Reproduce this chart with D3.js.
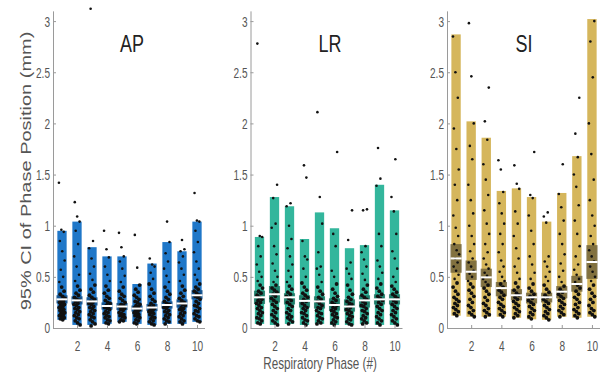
<!DOCTYPE html>
<html>
<head>
<meta charset="utf-8">
<script src="https://cdn.jsdelivr.net/npm/d3@7/dist/d3.min.js"></script>
<style>
  html, body { margin: 0; padding: 0; background: #fff; }
  svg { display: block; font-family: "Liberation Sans", Arial, Helvetica, sans-serif; }
</style>
</head>
<body>
<svg id="chart" width="603" height="381"></svg>
<script>
// ---------------- DATA ----------------
const phases = [1, 2, 3, 4, 5, 6, 7, 8, 9, 10];
const yTicks = [0, 0.5, 1, 1.5, 2, 2.5, 3];
const yTickLabels = ["0", "0.5", "1", "1.5", "2", "2.5", "3"];
const xTicks = [2, 4, 6, 8, 10];
const panelTitles = ["AP", "LR", "SI"];
const yLabel = "95% CI of Phase Position (mm)";
const xLabel = "Respiratory Phase (#)";

// AP
const apTop = [0.95, 1.04, 0.79, 0.70, 0.70, 0.43, 0.63, 0.84, 0.75, 1.04];
const apLow = [0.08, 0.03, 0.03, 0.04, 0.06, 0.04, 0.03, 0.04, 0.04, 0.06];
const apMedian = [0.28, 0.27, 0.26, 0.215, 0.21, 0.19, 0.20, 0.225, 0.24, 0.32];
const apDarkLow = [0.24, 0.23, 0.22, 0.18, 0.175, 0.16, 0.165, 0.19, 0.2, 0.28];
const apDarkHigh = [0.32, 0.31, 0.30, 0.25, 0.245, 0.22, 0.235, 0.26, 0.28, 0.37];
const apPoints = [
  [0.08,0.09,0.1,0.11,0.12,0.13,0.14,0.15,0.16,0.17,0.18,0.19,0.2,0.21,0.22,0.23,0.24,0.25,0.26,0.27,0.29,0.31,0.33,0.36,0.4,0.45,0.5,0.57,0.66,0.75,0.85,0.94,0.96,1.42],
  [0.03,0.05,0.07,0.09,0.1,0.12,0.13,0.15,0.16,0.18,0.19,0.2,0.22,0.23,0.24,0.26,0.27,0.28,0.3,0.32,0.34,0.37,0.41,0.46,0.52,0.6,0.7,0.82,0.95,1.04,1.09,1.23],
  [0.02,0.04,0.06,0.08,0.1,0.11,0.13,0.14,0.16,0.17,0.19,0.2,0.21,0.23,0.24,0.25,0.26,0.28,0.3,0.32,0.35,0.38,0.42,0.47,0.53,0.6,0.68,0.78,0.85,3.12],
  [0.04,0.05,0.07,0.08,0.1,0.11,0.12,0.14,0.15,0.16,0.18,0.19,0.2,0.21,0.22,0.24,0.25,0.27,0.29,0.31,0.34,0.37,0.41,0.46,0.52,0.6,0.69,0.77,0.95],
  [0.06,0.07,0.08,0.1,0.11,0.12,0.13,0.14,0.15,0.17,0.18,0.19,0.2,0.21,0.22,0.23,0.25,0.27,0.29,0.31,0.33,0.36,0.4,0.45,0.51,0.58,0.65,0.7,0.79,0.93],
  [0.04,0.05,0.07,0.08,0.1,0.11,0.12,0.13,0.14,0.15,0.16,0.17,0.18,0.19,0.2,0.21,0.22,0.23,0.25,0.26,0.28,0.3,0.32,0.35,0.38,0.42,0.59,0.91],
  [0.03,0.04,0.06,0.07,0.09,0.1,0.11,0.13,0.14,0.15,0.16,0.17,0.18,0.19,0.2,0.21,0.22,0.24,0.26,0.28,0.31,0.34,0.38,0.43,0.48,0.54,0.6,0.62,0.68],
  [0.04,0.06,0.07,0.09,0.1,0.12,0.13,0.15,0.16,0.17,0.19,0.2,0.21,0.22,0.23,0.24,0.26,0.28,0.3,0.33,0.36,0.4,0.45,0.51,0.58,0.65,0.73,0.84,1.04],
  [0.04,0.06,0.07,0.09,0.11,0.12,0.14,0.15,0.17,0.18,0.19,0.2,0.22,0.23,0.24,0.25,0.27,0.29,0.31,0.34,0.37,0.41,0.46,0.52,0.58,0.64,0.7,0.75,0.77,0.86],
  [0.06,0.07,0.09,0.11,0.12,0.14,0.16,0.17,0.19,0.21,0.22,0.24,0.26,0.28,0.3,0.31,0.32,0.34,0.36,0.38,0.4,0.43,0.47,0.52,0.58,0.65,0.74,0.84,0.95,1.04,1.05,1.32]
];

// LR
const lrTop = [0.89, 1.28, 1.19, 0.87, 1.13, 0.975, 0.78, 0.81, 1.40, 1.15];
const lrLow = [0.04, 0.03, 0.04, 0.03, 0.04, 0.03, 0.03, 0.04, 0.03, 0.03];
const lrMedian = [0.30, 0.33, 0.30, 0.265, 0.26, 0.225, 0.21, 0.27, 0.28, 0.28];
const lrDarkLow = [0.235, 0.25, 0.23, 0.20, 0.19, 0.17, 0.16, 0.20, 0.23, 0.23];
const lrDarkHigh = [0.365, 0.41, 0.34, 0.32, 0.31, 0.29, 0.28, 0.32, 0.33, 0.33];
const lrPoints = [
  [0.04,0.05,0.07,0.09,0.1,0.12,0.14,0.15,0.17,0.19,0.2,0.22,0.24,0.25,0.27,0.28,0.3,0.32,0.34,0.36,0.39,0.42,0.46,0.5,0.55,0.62,0.7,0.8,0.89,0.9,2.78],
  [0.03,0.05,0.07,0.09,0.11,0.13,0.15,0.17,0.19,0.21,0.23,0.25,0.27,0.29,0.31,0.33,0.35,0.37,0.39,0.42,0.45,0.5,0.56,0.63,0.72,0.8,0.98,1.02,1.27,1.4],
  [0.04,0.06,0.08,0.1,0.11,0.13,0.15,0.17,0.19,0.21,0.23,0.25,0.27,0.29,0.31,0.33,0.35,0.38,0.41,0.45,0.5,0.56,0.62,0.7,0.78,0.87,1.0,1.19,1.22],
  [0.03,0.05,0.07,0.08,0.1,0.12,0.14,0.15,0.17,0.19,0.2,0.22,0.24,0.26,0.28,0.3,0.32,0.34,0.37,0.4,0.44,0.5,0.58,0.67,0.7,0.85,1.47,1.59],
  [0.04,0.05,0.07,0.09,0.1,0.12,0.14,0.15,0.17,0.19,0.2,0.22,0.24,0.26,0.28,0.3,0.33,0.36,0.4,0.45,0.52,0.58,0.6,0.74,1.02,1.28,2.11],
  [0.03,0.05,0.06,0.08,0.1,0.11,0.13,0.14,0.16,0.17,0.19,0.2,0.22,0.23,0.25,0.27,0.29,0.31,0.34,0.38,0.43,0.5,0.56,0.8,0.92,1.72],
  [0.03,0.04,0.06,0.08,0.09,0.11,0.12,0.14,0.15,0.17,0.18,0.2,0.21,0.23,0.24,0.26,0.28,0.3,0.33,0.37,0.42,0.48,0.53,0.58,0.64,0.86,1.15],
  [0.04,0.05,0.07,0.09,0.1,0.12,0.14,0.16,0.17,0.19,0.21,0.22,0.24,0.26,0.28,0.3,0.32,0.35,0.38,0.42,0.47,0.53,0.6,0.67,0.74,0.8,1.15,1.16],
  [0.03,0.05,0.07,0.09,0.11,0.13,0.15,0.17,0.19,0.21,0.23,0.25,0.27,0.29,0.31,0.33,0.36,0.39,0.43,0.48,0.54,0.6,0.66,0.8,0.92,1.39,1.46,1.76],
  [0.03,0.05,0.07,0.09,0.11,0.13,0.15,0.17,0.19,0.21,0.23,0.25,0.27,0.29,0.31,0.33,0.35,0.38,0.41,0.45,0.5,0.58,0.68,0.75,0.92,1.14,1.28,1.65]
];

// SI
const siTop = [2.87, 2.02, 1.86, 1.34, 1.365, 1.28, 1.04, 1.32, 1.68, 3.02];
const siLow = [0.12, 0.11, 0.11, 0.11, 0.10, 0.085, 0.08, 0.11, 0.10, 0.11];
const siMedian = [0.68, 0.55, 0.495, 0.39, 0.32, 0.30, 0.30, 0.355, 0.43, 0.645];
const siDarkLow = [0.54, 0.47, 0.40, 0.31, 0.27, 0.24, 0.25, 0.29, 0.355, 0.48];
const siDarkHigh = [0.82, 0.66, 0.58, 0.45, 0.38, 0.345, 0.345, 0.41, 0.51, 0.81];
const siPoints = [
  [0.12,0.14,0.16,0.18,0.2,0.22,0.24,0.26,0.28,0.3,0.33,0.36,0.4,0.44,0.48,0.52,0.56,0.6,0.64,0.68,0.72,0.76,0.82,0.9,0.98,1.1,1.25,1.4,1.55,1.75,1.95,2.25,2.5,2.85],
  [0.11,0.13,0.15,0.17,0.2,0.22,0.25,0.28,0.31,0.34,0.37,0.4,0.43,0.46,0.5,0.53,0.56,0.6,0.64,0.68,0.75,0.82,0.9,1.0,1.12,1.25,1.4,1.65,1.78,2.0,2.46,2.98],
  [0.11,0.13,0.15,0.17,0.19,0.22,0.24,0.27,0.3,0.33,0.36,0.39,0.42,0.45,0.48,0.51,0.54,0.58,0.62,0.68,0.74,0.82,0.92,1.02,1.15,1.3,1.45,1.6,1.84,2.02,2.35],
  [0.11,0.13,0.15,0.17,0.19,0.21,0.23,0.25,0.28,0.3,0.32,0.35,0.37,0.4,0.43,0.46,0.5,0.55,0.6,0.66,0.74,0.82,0.92,1.02,1.12,1.22,1.33,1.55,1.64],
  [0.1,0.12,0.14,0.16,0.18,0.2,0.22,0.24,0.26,0.28,0.3,0.32,0.34,0.37,0.4,0.44,0.48,0.54,0.6,0.68,0.78,0.9,1.02,1.14,1.36,1.41,1.59],
  [0.09,0.11,0.13,0.15,0.17,0.19,0.21,0.23,0.25,0.27,0.29,0.31,0.33,0.36,0.39,0.43,0.48,0.54,0.62,0.7,0.82,0.95,1.1,1.27,1.3,1.72],
  [0.08,0.1,0.12,0.14,0.16,0.18,0.2,0.22,0.24,0.26,0.28,0.3,0.32,0.35,0.38,0.42,0.46,0.5,0.55,0.6,0.65,0.7,1.03,1.09,1.13],
  [0.11,0.13,0.15,0.17,0.19,0.21,0.23,0.25,0.27,0.29,0.31,0.33,0.35,0.38,0.41,0.45,0.5,0.56,0.63,0.72,0.82,0.92,1.05,1.18,1.31,1.6],
  [0.1,0.12,0.14,0.16,0.18,0.2,0.23,0.25,0.28,0.3,0.33,0.36,0.39,0.42,0.45,0.48,0.52,0.57,0.62,0.7,0.8,0.92,1.05,1.2,1.38,1.5,1.67,1.9,2.25],
  [0.11,0.13,0.15,0.17,0.19,0.22,0.25,0.28,0.31,0.34,0.38,0.42,0.46,0.5,0.55,0.6,0.65,0.7,0.76,0.82,0.9,1.0,1.1,1.25,1.45,1.7,2.0,2.45,2.8,3.0]
];

// ---------------- LAYOUT / STYLE ----------------
const panels = [
  { title: panelTitles[0], top: apTop, low: apLow, med: apMedian, dLow: apDarkLow, dHigh: apDarkHigh, pts: apPoints,
    color: "#1f77c8", dark: "#0e4b86", range: [53, 204.5], titleX: 132 },
  { title: panelTitles[1], top: lrTop, low: lrLow, med: lrMedian, dLow: lrDarkLow, dHigh: lrDarkHigh, pts: lrPoints,
    color: "#33b69c", dark: "#1a7563", range: [250.5, 402], titleX: 330 },
  { title: panelTitles[2], top: siTop, low: siLow, med: siMedian, dLow: siDarkLow, dHigh: siDarkHigh, pts: siPoints,
    color: "#d5b65c", dark: "#73653a", range: [447, 599.5], titleX: 524 }
];

const svg = d3.select("#chart");
const y = d3.scaleLinear().domain([0, 3.1]).range([328, 328 - 3.1 * 102.3]);
const barW = 0.62, darkW = 0.74, jitterW = 0.42;
const axisColor = "#9a9a9a", textColor = "#555";

panels.forEach(p => {
  const x = d3.scaleLinear().domain([0.4, 10.5]).range(p.range);
  const g = svg.append("g");
  const unit = x(1) - x(0);

  g.selectAll("rect.bar").data(phases).join("rect")
    .attr("class", "bar")
    .attr("x", d => x(d - barW / 2))
    .attr("width", barW * unit)
    .attr("y", (d, i) => y(p.top[i]))
    .attr("height", (d, i) => y(p.low[i]) - y(p.top[i]))
    .attr("fill", p.color);

  g.selectAll("rect.dark").data(phases).join("rect")
    .attr("class", "dark")
    .attr("x", d => x(d - darkW / 2))
    .attr("width", darkW * unit)
    .attr("y", (d, i) => y(p.dHigh[i]))
    .attr("height", (d, i) => y(p.dLow[i]) - y(p.dHigh[i]))
    .attr("fill", p.dark)
    .attr("opacity", 0.85);

  const flat = [];
  phases.forEach((ph, i) => {
    p.pts[i].forEach((v, j) => {
      const frac = ((j + 1) * 0.6180339887 + i * 0.37) % 1;
      flat.push({ ph, v, off: (frac - 0.5) * jitterW });
    });
  });
  g.selectAll("circle.pt").data(flat).join("circle")
    .attr("class", "pt")
    .attr("cx", d => x(d.ph + d.off))
    .attr("cy", d => y(d.v))
    .attr("r", d => d.v < 0.45 ? 1.9 : 1.3)
    .attr("fill", "#111");

  g.selectAll("line.med").data(phases).join("line")
    .attr("class", "med")
    .attr("x1", d => x(d - darkW / 2))
    .attr("x2", d => x(d + darkW / 2))
    .attr("y1", (d, i) => y(p.med[i]))
    .attr("y2", (d, i) => y(p.med[i]))
    .attr("stroke", "#fff")
    .attr("stroke-width", 2);

  const ya = g.append("g").attr("transform", `translate(${p.range[0]},0)`)
    .call(d3.axisLeft(y).tickValues(yTicks).tickFormat((d, i) => yTickLabels[i])
      .tickSizeInner(-3).tickSizeOuter(0));
  ya.select(".domain").attr("stroke", axisColor);
  ya.selectAll(".tick line").attr("stroke", axisColor);
  ya.selectAll(".tick text")
    .attr("x", 0).attr("dy", "0.35em")
    .attr("transform", "translate(-3,0) scale(0.72,1)")
    .attr("text-anchor", "end")
    .attr("fill", textColor)
    .style("font-size", "14px")
    .style("font-family", "'Liberation Sans', Arial, sans-serif");

  const xa = g.append("g").attr("transform", `translate(0,${y(0)})`)
    .call(d3.axisBottom(x).tickValues(xTicks).tickSizeInner(-3).tickSizeOuter(0));
  xa.select(".domain").attr("stroke", axisColor);
  xa.selectAll(".tick line").attr("stroke", axisColor);
  xa.selectAll(".tick text")
    .attr("y", 0).attr("dy", "0.71em")
    .attr("transform", "translate(0,13) scale(0.72,1)")
    .attr("fill", textColor)
    .style("font-size", "14px")
    .style("font-family", "'Liberation Sans', Arial, sans-serif");

  g.append("text")
    .attr("transform", `translate(${p.titleX},52) scale(0.78,1)`)
    .attr("text-anchor", "middle")
    .attr("fill", "#222")
    .style("font-size", "23px")
    .text(p.title);
});

svg.append("text")
  .attr("transform", "translate(31,171) rotate(-90) scale(1,0.72)")
  .attr("text-anchor", "middle")
  .attr("fill", textColor)
  .style("font-size", "20px")
  .text(yLabel);

svg.append("text")
  .attr("transform", "translate(320,369) scale(0.73,1)")
  .attr("text-anchor", "middle")
  .attr("fill", textColor)
  .style("font-size", "16px")
  .text(xLabel);
</script>
</body>
</html>
